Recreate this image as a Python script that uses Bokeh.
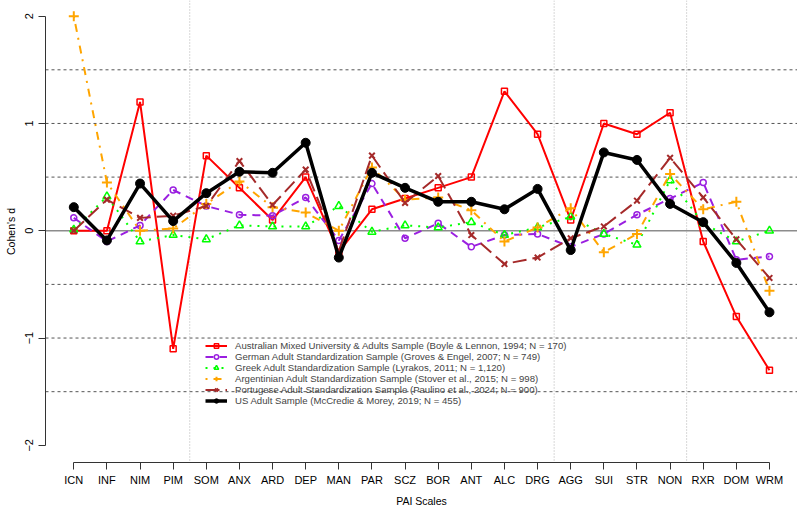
from bokeh.plotting import figure
from bokeh.models import Span, FixedTicker, Legend, LegendItem, Range1d
from bokeh.embed import file_html
from bokeh.resources import INLINE

scales = ["ICN", "INF", "NIM", "PIM", "SOM", "ANX", "ARD", "DEP", "MAN", "PAR", "SCZ",
          "BOR", "ANT", "ALC", "DRG", "AGG", "SUI", "STR", "NON", "RXR", "DOM", "WRM"]

australian = [0.0, 0.0, 1.2, -1.1, 0.7, 0.4, 0.1, 0.5, -0.2, 0.2, 0.3,
              0.4, 0.5, 1.3, 0.9, 0.1, 1.0, 0.9, 1.1, -0.1, -0.8, -1.3]
german = [0.12, -0.10, 0.05, 0.38, 0.23, 0.15, 0.14, 0.31, -0.09, 0.44, -0.07,
          0.07, -0.15, -0.04, -0.03, -0.15, -0.03, 0.15, 0.30, 0.45, -0.27, -0.24]
greek = [0.01, 0.32, -0.10, -0.04, -0.08, 0.05, 0.04, 0.04, 0.23, -0.01, 0.05,
         0.03, 0.08, -0.04, 0.03, 0.13, -0.03, -0.13, 0.47, 0.07, -0.10, 0.0]
argentinian = [2.0, 0.45, 0.0, 0.02, 0.25, 0.46, 0.22, 0.17, 0.0, 0.59, 0.29,
               0.31, 0.19, -0.10, 0.03, 0.21, -0.20, -0.03, 0.53, 0.20, 0.27, -0.56]
portugese = [0.0, 0.29, 0.12, 0.14, 0.23, 0.65, 0.24, 0.57, -0.19, 0.70, 0.26,
             0.51, -0.04, -0.31, -0.25, -0.07, 0.04, 0.28, 0.68, 0.31, -0.08, -0.44]
us = [0.22, -0.09, 0.44, 0.09, 0.35, 0.55, 0.54, 0.82, -0.25, 0.54, 0.40,
      0.27, 0.27, 0.20, 0.39, -0.18, 0.73, 0.66, 0.25, 0.08, -0.30, -0.76]

labels = [
    "Australian Mixed University & Adults Sample (Boyle & Lennon, 1994; N = 170)",
    "German Adult Standardization Sample (Groves & Engel, 2007; N = 749)",
    "Greek Adult Standardization Sample (Lyrakos, 2011; N = 1,120)",
    "Argentinian Adult Standardization Sample (Stover et al., 2015; N = 998)",
    "Portugese Adult Standardization Sample (Paulino et al., 2024; N = 900)",
    "US Adult Sample (McCredie & Morey, 2019; N = 455)",
]
y_ticks = [-2, -1, 0, 1, 2]
grid_levels = [-1.5, -1.0, -0.5, 0.5, 1.0, 1.5]
dividers = [4.5, 15.5, 19.5]

FONT = "Liberation Sans"
x = list(range(1, len(scales) + 1))

p = figure(frame_width=752, frame_height=462, output_backend="svg", toolbar_location=None,
           x_range=Range1d(0.146, 22.846), y_range=Range1d(-2.16, 2.146))
p.min_border_left = 45
p.min_border_right = 0
p.min_border_top = 0
p.min_border_bottom = 46
p.outline_line_color = None
p.xgrid.visible = False
p.ygrid.visible = False
p.background_fill_color = "white"
p.border_fill_color = "white"

for g in grid_levels:
    p.add_layout(Span(location=g, dimension="width", line_color="#555555",
                      line_dash="3 3", line_width=1, level="underlay"))
p.add_layout(Span(location=0, dimension="width", line_color="#8c8c8c",
                  line_width=1.5, level="underlay"))
for d in dividers:
    p.add_layout(Span(location=d, dimension="height", line_color="#b0b0b0",
                      line_dash="1 2", line_width=1, level="underlay"))

series = [
    (australian, "red", "solid", 2, "square", 6, 1.5),
    (german, "#9a1fe0", "8 6", 2, "circle", 6, 1.5),
    (greek, "#00ff00", "2 6", 2, "triangle", 8, 1.5),
    (argentinian, "orange", "2 6 8 6", 2, "cross", 10, 2),
    (portugese, "brown", "14 6", 2, "x", 8, 2),
]
items = []
for (vals, col, dash, lw, mk, ms, mlw), lab in zip(series, labels):
    lr = p.line(x, vals, line_color=col, line_dash=dash, line_width=lw)
    sr = p.scatter(x, vals, marker=mk, size=ms, line_color=col, fill_alpha=0,
                   line_width=mlw)
    items.append(LegendItem(label=lab, renderers=[lr, sr]))
lr = p.line(x, us, line_color="black", line_width=3.5)
sr = p.scatter(x, us, marker="circle", size=9, line_color="black", fill_color="black")
items.append(LegendItem(label=labels[-1], renderers=[lr, sr]))

leg = Legend(items=items, location=(160, 56), border_line_color=None,
             background_fill_alpha=0, label_text_font=FONT,
             label_text_font_size="9.6px", glyph_width=22, glyph_height=11,
             label_height=11, spacing=0, padding=0, margin=0, label_standoff=8)
p.add_layout(leg, "center")

p.xaxis.ticker = FixedTicker(ticks=x)
p.xaxis.major_label_overrides = {i: s for i, s in zip(x, scales)}
p.xaxis.bounds = (1, len(scales))
p.yaxis.ticker = FixedTicker(ticks=y_ticks)
p.yaxis.bounds = (-2, 2)
p.yaxis.major_label_orientation = "vertical"
for ax in (p.xaxis, p.yaxis):
    ax.axis_line_color = "#333333"
    ax.major_tick_line_color = "#333333"
    ax.major_tick_out = 7
    ax.major_tick_in = 0
    ax.minor_tick_line_color = None
    ax.major_label_text_font = FONT
    ax.major_label_text_font_size = "11px"
    ax.major_label_text_color = "black"
    ax.axis_label_text_font = FONT
    ax.axis_label_text_font_size = "10.5px"
    ax.axis_label_text_font_style = "normal"
    ax.axis_label_text_color = "black"
p.xaxis.major_label_standoff = 4
p.yaxis.major_label_standoff = 5
p.xaxis.axis_label = "PAI Scales"
p.yaxis.axis_label = "Cohen's d"
p.xaxis.axis_label_standoff = 6
p.yaxis.axis_label_standoff = 6

open("out.html", "w").write(file_html(p, INLINE))
